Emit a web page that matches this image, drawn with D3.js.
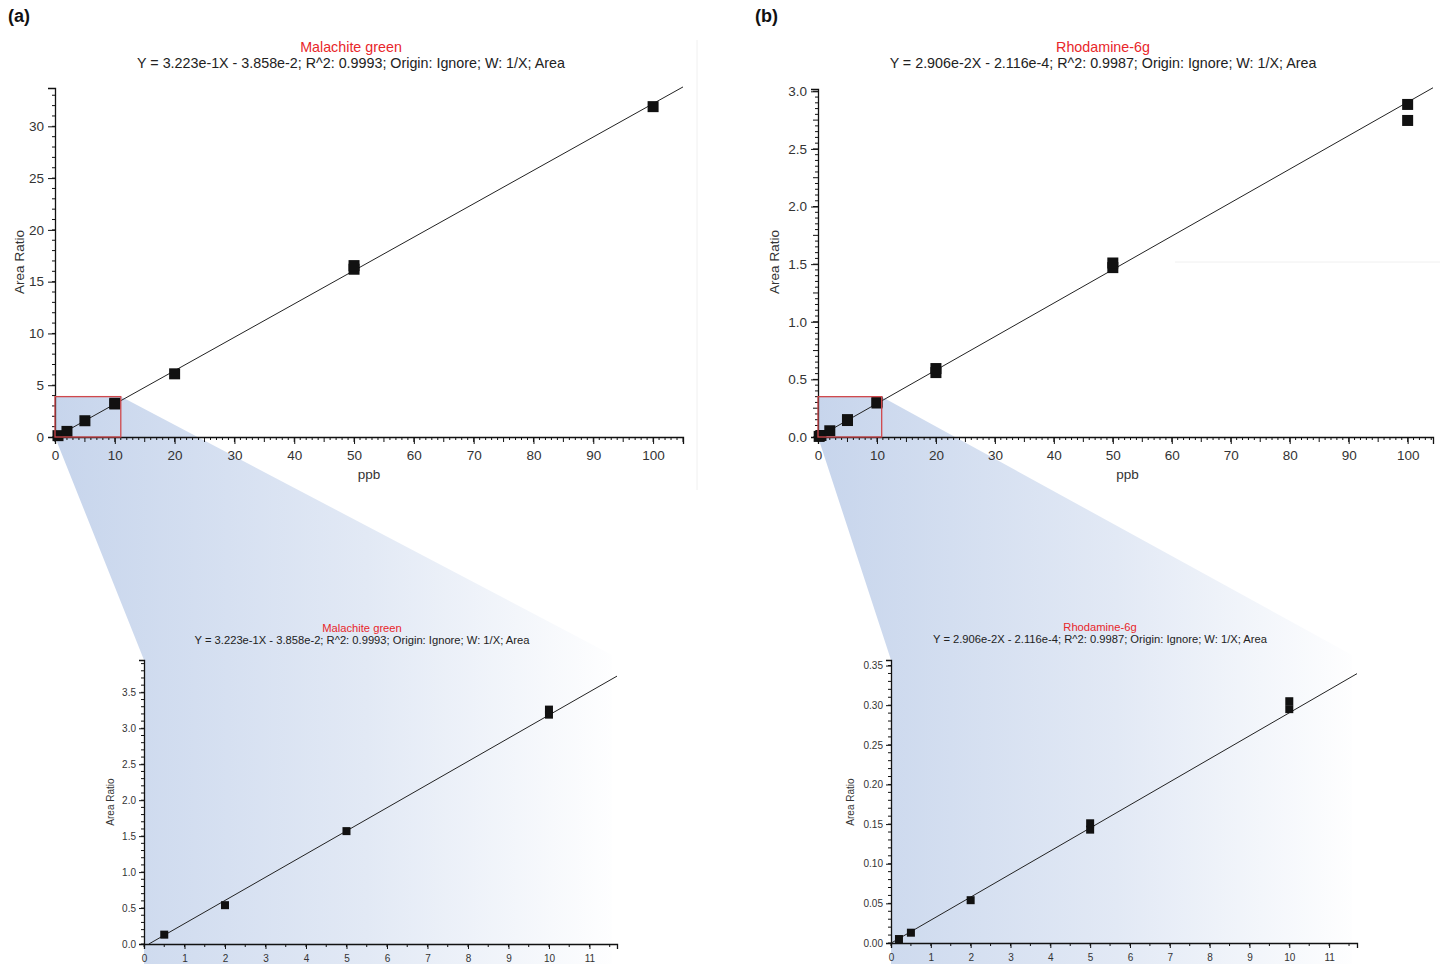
<!DOCTYPE html>
<html><head><meta charset="utf-8">
<script src="https://cdn.jsdelivr.net/npm/d3@7"></script>
<style>
html,body{margin:0;padding:0;background:#fff;}
text{font-family:"Liberation Sans",Arial,Helvetica,sans-serif;}
</style></head>
<body>
<svg id="chart" width="1445" height="964"></svg>
<script>
// ---------- DATA ----------
const mgTitle = "Malachite green";
const mgEquation = "Y = 3.223e-1X - 3.858e-2; R^2: 0.9993; Origin: Ignore; W: 1/X; Area";
const mgSlope = 0.3223, mgIntercept = -0.03858;
const mgX = [0.5, 2, 5, 10, 10, 20, 50, 50, 100];
const mgY = [0.13, 0.54, 1.57, 3.19, 3.26, 6.1, 16.2, 16.55, 31.9];

const r6gTitle = "Rhodamine-6g";
const r6gEquation = "Y = 2.906e-2X - 2.116e-4; R^2: 0.9987; Origin: Ignore; W: 1/X; Area";
const r6gSlope = 0.02906, r6gIntercept = -0.0002116;
const r6gX = [0.2, 0.5, 2, 5, 5, 10, 10, 20, 20, 50, 50, 100, 100];
const r6gY = [0.005, 0.013, 0.054, 0.143, 0.151, 0.295, 0.305, 0.559, 0.594, 1.47, 1.51, 2.886, 2.747];

const panelLabels = ["(a)", "(b)"];
const xAxisLabel = "ppb";
const yAxisLabel = "Area Ratio";

// tick values
const mainXTicks = [0,10,20,30,40,50,60,70,80,90,100];
const mgMainYTicks = [0,5,10,15,20,25,30];
const r6gMainYTicks = [0,0.5,1.0,1.5,2.0,2.5,3.0];
const insetXTicks = [0,1,2,3,4,5,6,7,8,9,10,11];
const mgInsetYTicks = [0,0.5,1.0,1.5,2.0,2.5,3.0,3.5];
const r6gInsetYTicks = [0,0.05,0.10,0.15,0.20,0.25,0.30,0.35];

const svg = d3.select("#chart");
const defs = svg.append("defs");

function range(a, b, s){ const r=[]; for(let v=a; v<=b+1e-9; v+=s) r.push(+v.toFixed(6)); return r; }

function drawPlot(g, cfg){
  const x = d3.scaleLinear().domain(cfg.xDomain).range(cfg.xRange);
  const y = d3.scaleLinear().domain(cfg.yDomain).range(cfg.yRange);
  const fs = cfg.fontSize;
  const cx = cfg.titleX;
  g.append("text").attr("x", cx).attr("y", cfg.titleY).attr("text-anchor","middle")
    .attr("font-size", fs).attr("fill","#e8262a").text(cfg.title);
  g.append("text").attr("x", cx).attr("y", cfg.titleY + cfg.titleGap).attr("text-anchor","middle")
    .attr("font-size", fs).attr("fill","#222").text(cfg.equation);

  const minorX = range(cfg.xDomain[0], cfg.xDomain[1], cfg.xMinor);
  const minorY = range(cfg.yDomain[0], cfg.yDomain[1], cfg.yMinor);
  const y0 = cfg.yRange[0], x0 = cfg.xRange[0];
  g.append("g").selectAll("line").data(minorX).join("line")
    .attr("x1", d=>x(d)).attr("x2", d=>x(d)).attr("y1", y0)
    .attr("y2", d=> y0 + (cfg.xMid && Math.abs(d/cfg.xMid - Math.round(d/cfg.xMid))<1e-6 ? cfg.midLen : cfg.minorLen))
    .attr("stroke","#111").attr("stroke-width",1);
  g.append("g").selectAll("line").data(minorY).join("line")
    .attr("y1", d=>y(d)).attr("y2", d=>y(d)).attr("x1", x0)
    .attr("x2", d=> x0 - (cfg.yMid && Math.abs(d/cfg.yMid - Math.round(d/cfg.yMid))<1e-6 ? cfg.midLen : cfg.minorLen))
    .attr("stroke","#111").attr("stroke-width",1);

  const xa = d3.axisBottom(x).tickValues(cfg.xTicks).tickFormat(cfg.xFmt).tickSizeOuter(0).tickSize(cfg.majorLen).tickPadding(cfg.xTickPad);
  const ya = d3.axisLeft(y).tickValues(cfg.yTicks).tickFormat(cfg.yFmt).tickSizeOuter(0).tickSize(cfg.majorLen).tickPadding(cfg.yTickPad);
  const gx = g.append("g").attr("transform", `translate(0,${y0})`).call(xa);
  const gy = g.append("g").attr("transform", `translate(${x0},0)`).call(ya);
  [gx, gy].forEach(a=>{
    a.select(".domain").attr("stroke","#111").attr("stroke-width",1.3);
    a.selectAll(".tick line").attr("stroke","#111").attr("stroke-width",1);
    a.selectAll(".tick text").attr("font-size", cfg.tickFont).attr("fill","#333")
      .attr("font-family",'"Liberation Sans",Arial,sans-serif');
  });

  if (cfg.showXLabel) g.append("text").attr("x", (x(cfg.xLabelAt))).attr("y", cfg.xLabelY)
    .attr("text-anchor","middle").attr("font-size", cfg.tickFont).attr("fill","#333").text(xAxisLabel);
  g.append("text").attr("transform", `translate(${cfg.yLabelX},${cfg.yLabelCY}) rotate(-90)`)
    .attr("text-anchor","middle").attr("font-size", cfg.yLabelFont).attr("fill","#333").text(yAxisLabel);

  const xs = Math.max(cfg.xDomain[0], -cfg.intercept / cfg.slope);
  const lineData = [xs, cfg.xDomain[1]];
  g.append("path").datum(lineData)
    .attr("d", d3.line().x(d=>x(d)).y(d=>y(cfg.slope*d + cfg.intercept)))
    .attr("stroke","#222").attr("stroke-width",1).attr("fill","none");

  const m = cfg.marker;
  g.append("g").selectAll("rect").data(cfg.xs.map((v,i)=>[v, cfg.ys[i]]).filter(d=>d[0]<=cfg.xDomain[1] && d[1]<=cfg.yDomain[1]))
    .join("rect").attr("x", d=>x(d[0]) - m/2).attr("y", d=>y(d[1]) - m/2)
    .attr("width", m).attr("height", m).attr("fill","#111");
  return {x, y};
}

function drawPanel(p){
  const gradId = "grad" + p.id;
  const grad = defs.append("linearGradient").attr("id", gradId)
    .attr("gradientUnits","userSpaceOnUse")
    .attr("x1", p.mainX0).attr("y1", 0).attr("x2", p.insetXR + 10).attr("y2", 0);
  grad.append("stop").attr("offset", 0).attr("stop-color", "#c7d5ec");
  grad.append("stop").attr("offset", 0.55).attr("stop-color", "#e2e9f5");
  grad.append("stop").attr("offset", 1).attr("stop-color", "#ffffff");

  const xm = d3.scaleLinear().domain(p.main.xDomain).range(p.main.xRange);
  const ym = d3.scaleLinear().domain(p.main.yDomain).range(p.main.yRange);
  const bx0 = xm(0), bx1 = xm(p.boxX), by0 = ym(0), by1 = ym(p.boxY);
  const g = svg.append("g");
  const poly = [
    [bx0, by1], [bx1, by1], [p.insetXR, p.insetTop - 5], [p.insetXR, 964],
    [p.inset.xRange[0], 964], [p.inset.xRange[0], p.inset.yRange[1]], [bx0, by0]
  ];
  g.append("path").attr("d", d3.line()(poly) + "Z").attr("fill", `url(#${gradId})`);
  // faint scan artefact line
  g.append("line").attr("x1", p.faint[0]).attr("y1", p.faint[1]).attr("x2", p.faint[2]).attr("y2", p.faint[3])
    .attr("stroke", "#f0f0f0").attr("stroke-width", 1);
  g.append("text").attr("x", p.labelX).attr("y", 22).attr("font-size", 18).attr("font-weight","bold")
    .attr("fill","#111").text(p.label);

  drawPlot(g, p.main);
  drawPlot(g, p.inset);

  g.append("rect").attr("x", bx0).attr("y", by1).attr("width", bx1 - bx0).attr("height", by0 - by1)
    .attr("fill","none").attr("stroke","#d0484c").attr("stroke-width",1.3);
}

const mainCommon = {fontSize:14.3, titleGap:16, tickFont:13.5, yLabelFont:13.5, majorLen:7, midLen:5, minorLen:3, xTickPad:6, yTickPad:4, marker:11, showXLabel:true, xMinor:1, xMid:5, xTicks: mainXTicks, xFmt: d3.format("d"), xLabelY:479};
const insetCommon = {fontSize:11.2, titleGap:12, tickFont:10, yLabelFont:10, majorLen:5, midLen:3, minorLen:3, xTickPad:6, yTickPad:3, marker:8, showXLabel:false, xMinor:0.5, xMid:null, xTicks: insetXTicks, xFmt: d3.format("d")};

drawPanel({
  id:"a", label: panelLabels[0], labelX:8, mainX0:55, boxX:11, boxY:3.9, insetXR:612, insetTop:660,
  faint:[697, 40, 697, 490],
  main: Object.assign({}, mainCommon, {title:mgTitle, equation:mgEquation, titleX:351, titleY:52,
    xDomain:[0,105], xRange:[55,683], yDomain:[0,33.7], yRange:[437,88],
    yTicks: mgMainYTicks, yFmt: d3.format("d"), yMinor:1, yMid:null,
    xLabelAt:52.5, yLabelX:24, yLabelCY:262, slope:mgSlope, intercept:mgIntercept, xs:mgX, ys:mgY}),
  inset: Object.assign({}, insetCommon, {title:mgTitle, equation:mgEquation, titleX:362, titleY:632,
    xDomain:[0,11.68], xRange:[144,617], yDomain:[0,3.95], yRange:[944,660],
    yTicks: mgInsetYTicks, yFmt: d3.format(".1f"), yMinor:0.1, yMid:null,
    yLabelX:114, yLabelCY:802, slope:mgSlope, intercept:mgIntercept, xs:mgX, ys:mgY})
});

drawPanel({
  id:"b", label: panelLabels[1], labelX:755, mainX0:818, boxX:10.8, boxY:0.35, insetXR:1352, insetTop:660,
  faint:[1175, 262, 1440, 262],
  main: Object.assign({}, mainCommon, {title:r6gTitle, equation:r6gEquation, titleX:1103, titleY:52,
    xDomain:[0,104.3], xRange:[818,1433], yDomain:[0,3.02], yRange:[437,89],
    yTicks: r6gMainYTicks, yFmt: d3.format(".1f"), yMinor:0.05, yMid:0.25,
    xLabelAt:52.5, yLabelX:779, yLabelCY:262, slope:r6gSlope, intercept:r6gIntercept, xs:r6gX, ys:r6gY}),
  inset: Object.assign({}, insetCommon, {title:r6gTitle, equation:r6gEquation, titleX:1100, titleY:631,
    xDomain:[0,11.7], xRange:[891,1357], yDomain:[0,0.357], yRange:[943,660],
    yTicks: r6gInsetYTicks, yFmt: d3.format(".2f"), yMinor:0.01, yMid:null,
    yLabelX:854, yLabelCY:802, slope:r6gSlope, intercept:r6gIntercept, xs:r6gX, ys:r6gY})
});
</script>
</body></html>
